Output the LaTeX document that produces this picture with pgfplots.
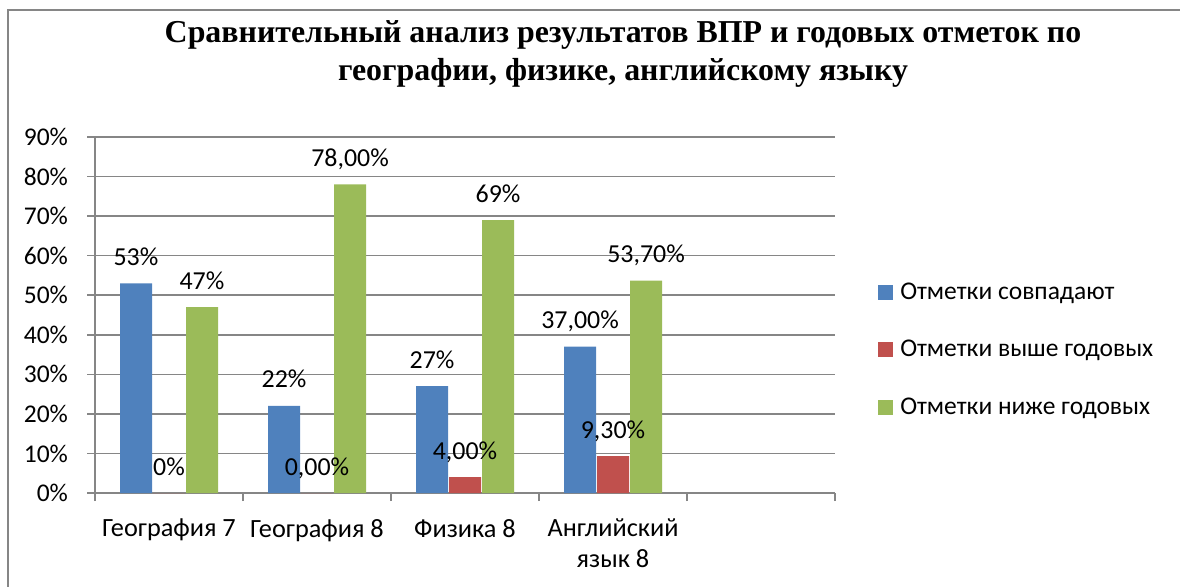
\documentclass[border=0pt]{standalone}
\usepackage{fontspec}
\setmainfont{Carlito}
\newfontfamily\titlefont{Liberation Serif}
\usepackage{pgfplots}
\pgfplotsset{compat=1.18}
\definecolor{cb}{HTML}{4F81BD}
\definecolor{cr}{HTML}{C0504D}
\definecolor{cg}{HTML}{9BBB59}
\definecolor{axgray}{HTML}{868686}
\pgfplotsset{sqlegend/.style={legend image code/.code={\fill[##1] (0bp,-3.75bp) rectangle (7.5bp,3.75bp);}}}
\begin{document}
\begin{tikzpicture}[x=1bp,y=1bp]
\begin{axis}[
  name=ax, at={(0,0)}, anchor=south west,
  scale only axis, width=370bp, height=178bp,
  ybar=0.5bp, bar width=16bp,
  every axis plot/.append style={sqlegend},
  xmin=-0.5, xmax=4.5, ymin=0, ymax=90,
  axis lines*=left,
  axis line style={axgray, line width=0.8bp},
  tick style={axgray, line width=0.8bp},
  tick align=outside, major tick length=4bp,
  xtick={-0.5,0.5,1.5,2.5,3.5,4.5},
  x tick label as interval,
  xticklabels={География 7, География 8, Физика 8, {Английский\\язык 8}, {}},
  xticklabel style={align=center, font=\fontsize{13.2}{15.5}\selectfont, yshift=-5.5bp},
  ytick={0,10,...,90},
  yticklabels={0\%,10\%,20\%,30\%,40\%,50\%,60\%,70\%,80\%,90\%},
  yticklabel style={font=\fontsize{12.8}{14}\selectfont, xshift=-6bp},
  ymajorgrids, grid style={axgray, line width=0.8bp},
  point meta=explicit symbolic,
  nodes near coords,
  nodes near coords style={font=\fontsize{13}{14}\selectfont, anchor=base, yshift=9bp, text=black},
  legend style={at={(1.058,0.402)}, anchor=west, draw=none, fill=none, inner sep=0pt,
    row sep=12bp, font=\fontsize{12.8}{14}\selectfont, legend cell align=left,
    nodes={inner sep=3.5bp}},
]
\addplot[fill=cb, draw=none] coordinates {(0,53) [53\%] (1,22) [22\%] (2,27) [27\%] (3,37) [37,00\%]};
\addplot[fill=cr, draw=none] coordinates {(0,0) [0\%] (1,0) [0,00\%] (2,4) [4,00\%] (3,9.3) [9,30\%]};
\addplot[fill=cg, draw=none] coordinates {(0,47) [47\%] (1,78) [78,00\%] (2,69) [69\%] (3,53.7) [53,70\%]};
\legend{Отметки совпадают, Отметки выше годовых, Отметки ниже годовых}
\end{axis}
\begin{scope}[shift={(ax.south west)}, xshift=-47.5bp, yshift=-46.5bp]
\draw[axgray, line width=0.8bp] (4,-10) -- (4,288) -- (600,288);
\node[align=center, font=\titlefont\bfseries\fontsize{16}{19}\selectfont] at (311.5,266)
  {Сравнительный анализ результатов ВПР и годовых отметок по\\географии, физике, английскому языку};
\pgfresetboundingbox
\useasboundingbox (0,0) rectangle (590,293);
\end{scope}
\end{tikzpicture}
\end{document}
